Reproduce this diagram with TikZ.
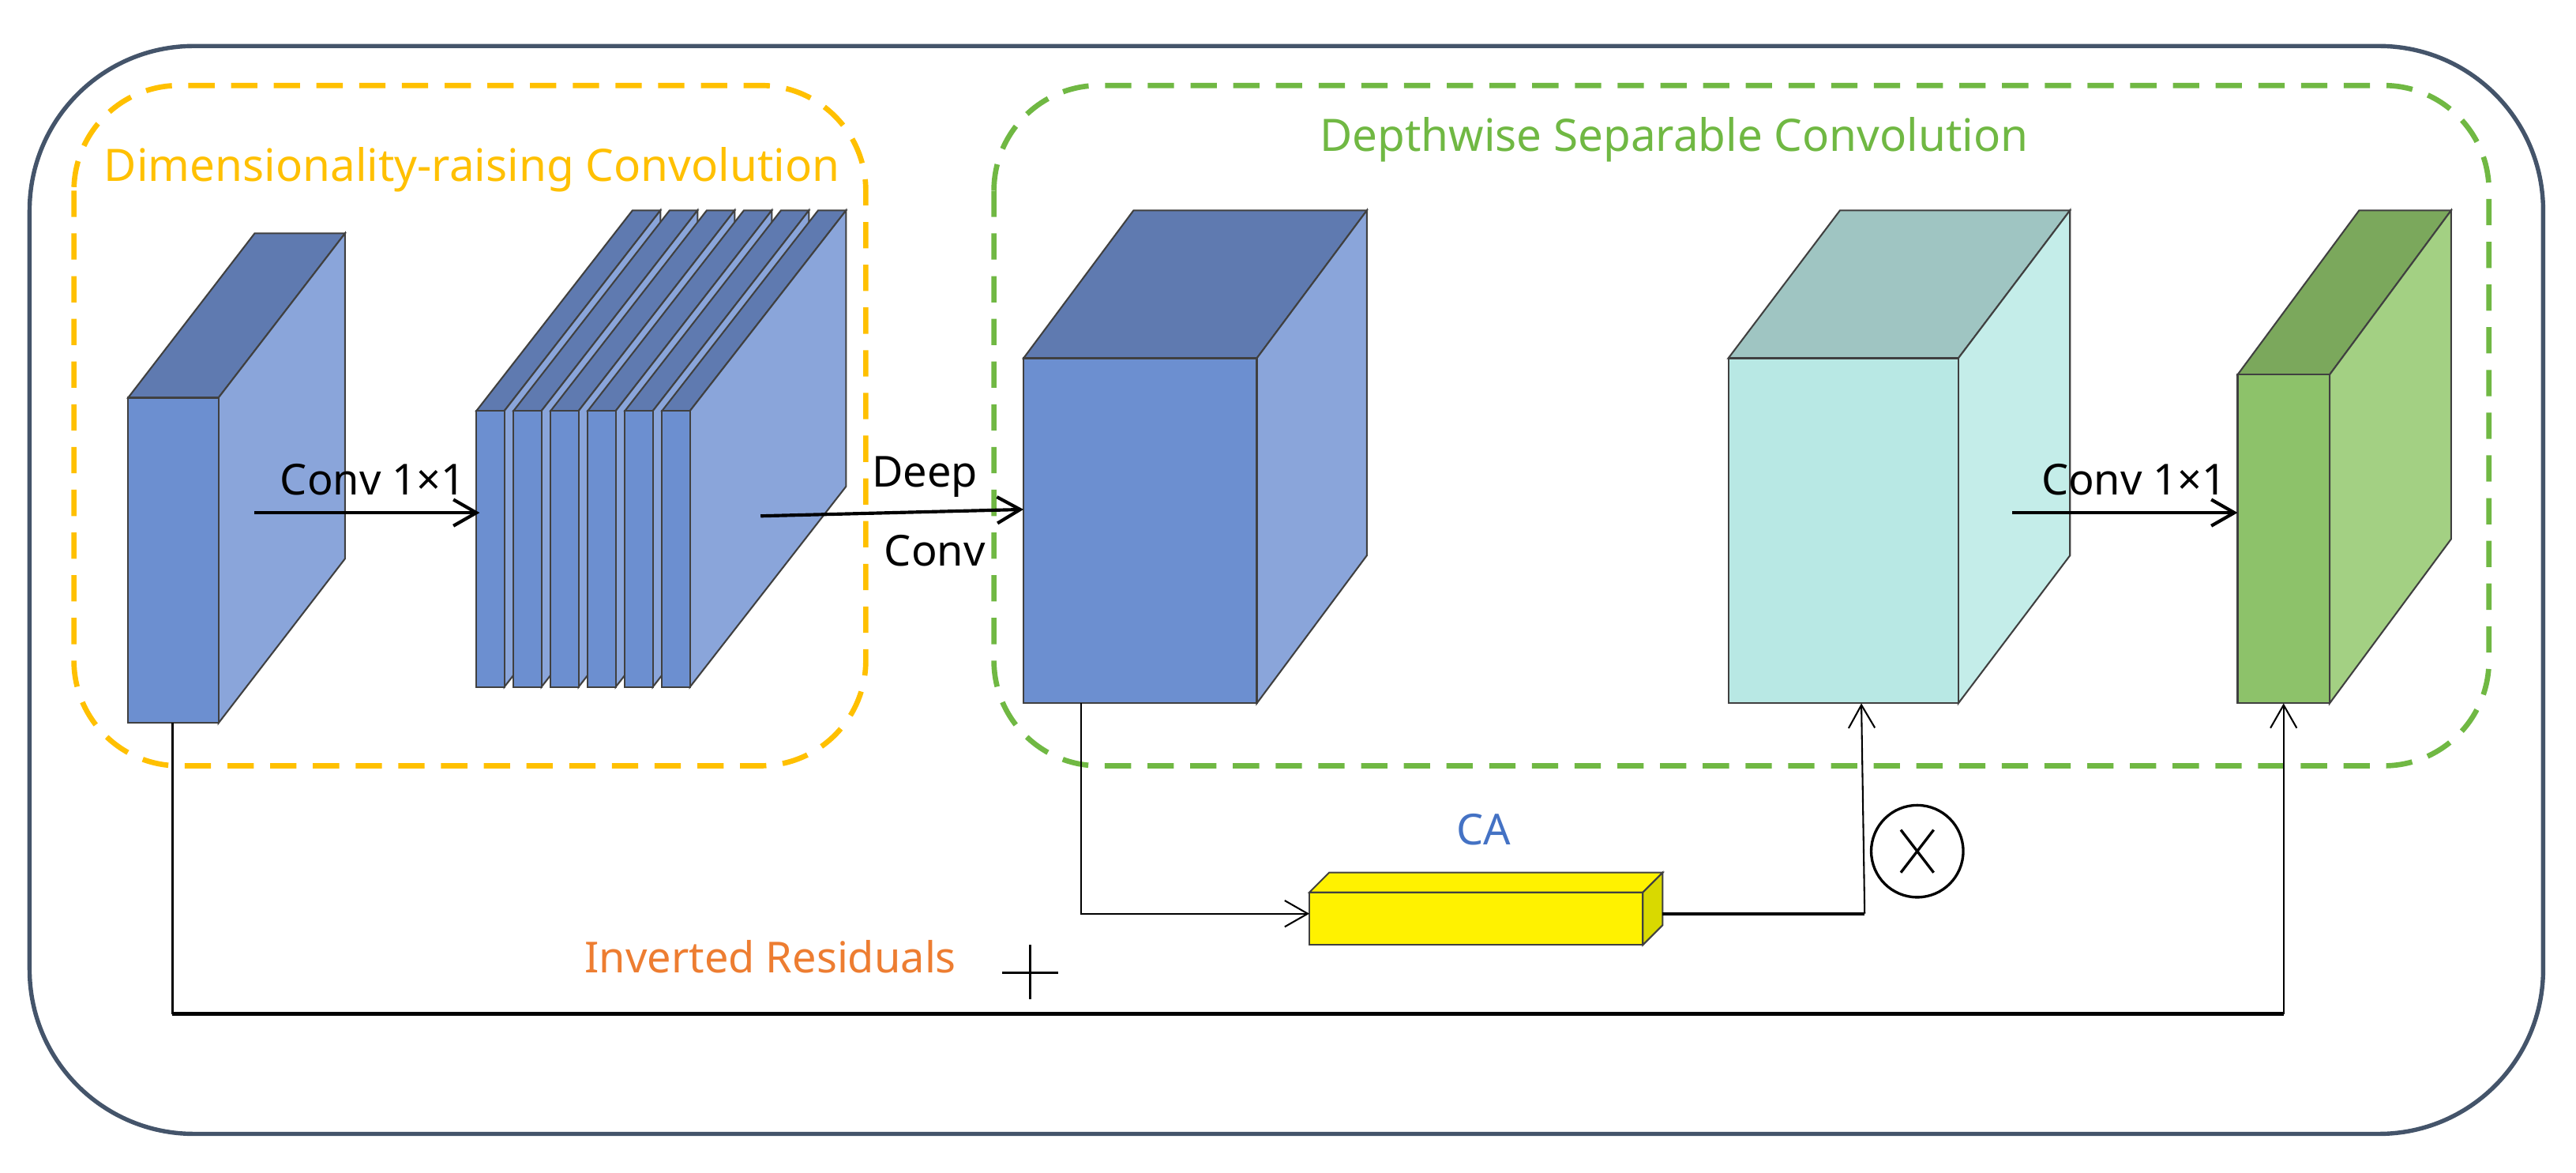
\documentclass[tikz,border=0pt]{standalone}
\usepackage{fontspec}
\setmainfont{Noto Sans}
\usetikzlibrary{arrows.meta,calc}
\definecolor{frameC}{HTML}{44546A}
\definecolor{orC}{HTML}{FFC000}
\definecolor{grC}{HTML}{70B843}
\definecolor{bF}{HTML}{6C8FD0}\definecolor{bT}{HTML}{5F7AB0}\definecolor{bS}{HTML}{8AA5DA}
\definecolor{cF}{HTML}{B8E8E4}\definecolor{cT}{HTML}{9FC5C2}\definecolor{cS}{HTML}{C4EDE9}
\definecolor{gF}{HTML}{8DC26A}\definecolor{gT}{HTML}{7BA85C}\definecolor{gS}{HTML}{A3D083}
\definecolor{yS}{HTML}{D9D900}
\definecolor{caC}{HTML}{4472C4}\definecolor{resC}{HTML}{ED7D31}
\tikzset{
  edge/.style={draw=black!75,line width=0.5pt},
  arr/.style={-{Straight Barb[length=7pt,width=8pt]},line width=1pt},
  thin arr/.style={-{Straight Barb[length=7pt,width=8pt]},line width=0.5pt},
  lbl/.style={font=\fontsize{13}{15}\selectfont,inner sep=0pt},
  title/.style={font=\fontsize{13.6}{16}\selectfont,inner sep=0pt},
}
\newcommand{\cuboid}[9]{%
  \filldraw[fill=#8,edge] (#1,#2)--(#1+#5,#2+#6)--(#3+#5,#2+#6)--(#3,#2)--cycle;
  \filldraw[fill=#9,edge] (#3,#2)--(#3+#5,#2+#6)--(#3+#5,#4+#6)--(#3,#4)--cycle;
  \filldraw[fill=#7,edge] (#1,#2) rectangle (#3,#4);
}
\begin{document}
\begin{tikzpicture}[x=0.5pt,y=-0.5pt]
\useasboundingbox (0,0) rectangle (1568,713.4);
\draw[frameC,line width=1.3pt,rounded corners=50pt] (18,28) rectangle (1548,690);
\draw[orC,line width=1.6pt,dash pattern=on 8pt off 5pt,rounded corners=32pt] (45,52) rectangle (527,466);
\draw[grC,line width=1.6pt,dash pattern=on 8pt off 5pt,rounded corners=32pt] (605,52) rectangle (1515,466);
\node[title,text=orC,anchor=west] (t1) at (63,103) {Dimensionality-raising Convolution};
\node[title,text=grC] (t2) at (1019,85) {Depthwise Separable Convolution};
% cube 1
\cuboid{78}{242}{133}{440}{77}{-100}{bF}{bT}{bS}
\coordinate (c1b) at (105,440);
% stack
\foreach \i in {0,...,5}{
  \pgfmathsetmacro{\xa}{290+22.6*\i}
  \pgfmathsetmacro{\xb}{\xa+17}
  \cuboid{\xa}{250}{\xb}{418}{95}{-122}{bF}{bT}{bS}
}
% cube 3
\cuboid{623}{218}{765}{428}{67}{-90}{bF}{bT}{bS}
\coordinate (c3b) at (658,428);
% cube 4
\cuboid{1052}{218}{1192}{428}{68}{-90}{cF}{cT}{cS}
\coordinate (c4b) at (1133,428);
% cube 5
\cuboid{1362}{228}{1418}{428}{74}{-100}{gF}{gT}{gS}
\coordinate (c5b) at (1390,428);
% CA block
\cuboid{797}{543}{1000}{575}{12}{-12}{yellow}{yellow}{yS}
\node[lbl,text=caC] (calbl) at (903,505) {CA};
% arrows
\coordinate (a1s) at (155,312); \coordinate (a1e) at (292,312);
\draw[arr] (a1s) -- (a1e);
\node[lbl,anchor=south] (l1) at (227,302) {Conv 1×1};
\coordinate (a2s) at (463,314); \coordinate (a2e) at (623,310);
\draw[arr] (a2s) -- (a2e);
\node[lbl] (l2a) at (563,290) {Deep};
\node[lbl] (l2b) at (569,335) {Conv};
\coordinate (a3s) at (1225,312); \coordinate (a3e) at (1362,312);
\draw[arr] (a3s) -- (a3e);
\node[lbl,anchor=south] (l3) at (1299,302) {Conv 1×1};
% CA path
\coordinate (caL) at (797,556); \coordinate (caR) at (1012,556);
\coordinate (caT) at (1135,556);
\draw[thin arr] (c3b) |- (caL);
\draw[line width=1pt] (caR) -- (caT);
\draw[thin arr] (caT) -- (c4b);
\node[draw,circle,minimum size=28pt,line width=0.8pt,inner sep=0pt] (mul) at (1167,518) {};
\draw[line width=0.8pt] ($(mul)+(-10,-13)$) -- ($(mul)+(10,13)$) ($(mul)+(10,-13)$) -- ($(mul)+(-10,13)$);
% residual
\coordinate (r1) at (105,617); \coordinate (r2) at (1390,617);
\draw[line width=0.6pt] (c1b) -- (r1);
\draw[line width=1.2pt] (r1) -- (r2);
\draw[thin arr] (r2) -- (c5b);
\node[lbl,text=resC] (res) at (469,582) {Inverted Residuals};
\draw[line width=0.8pt] (627,575) -- (627,608) (610,592) -- (644,592);
\end{tikzpicture}
\end{document}
